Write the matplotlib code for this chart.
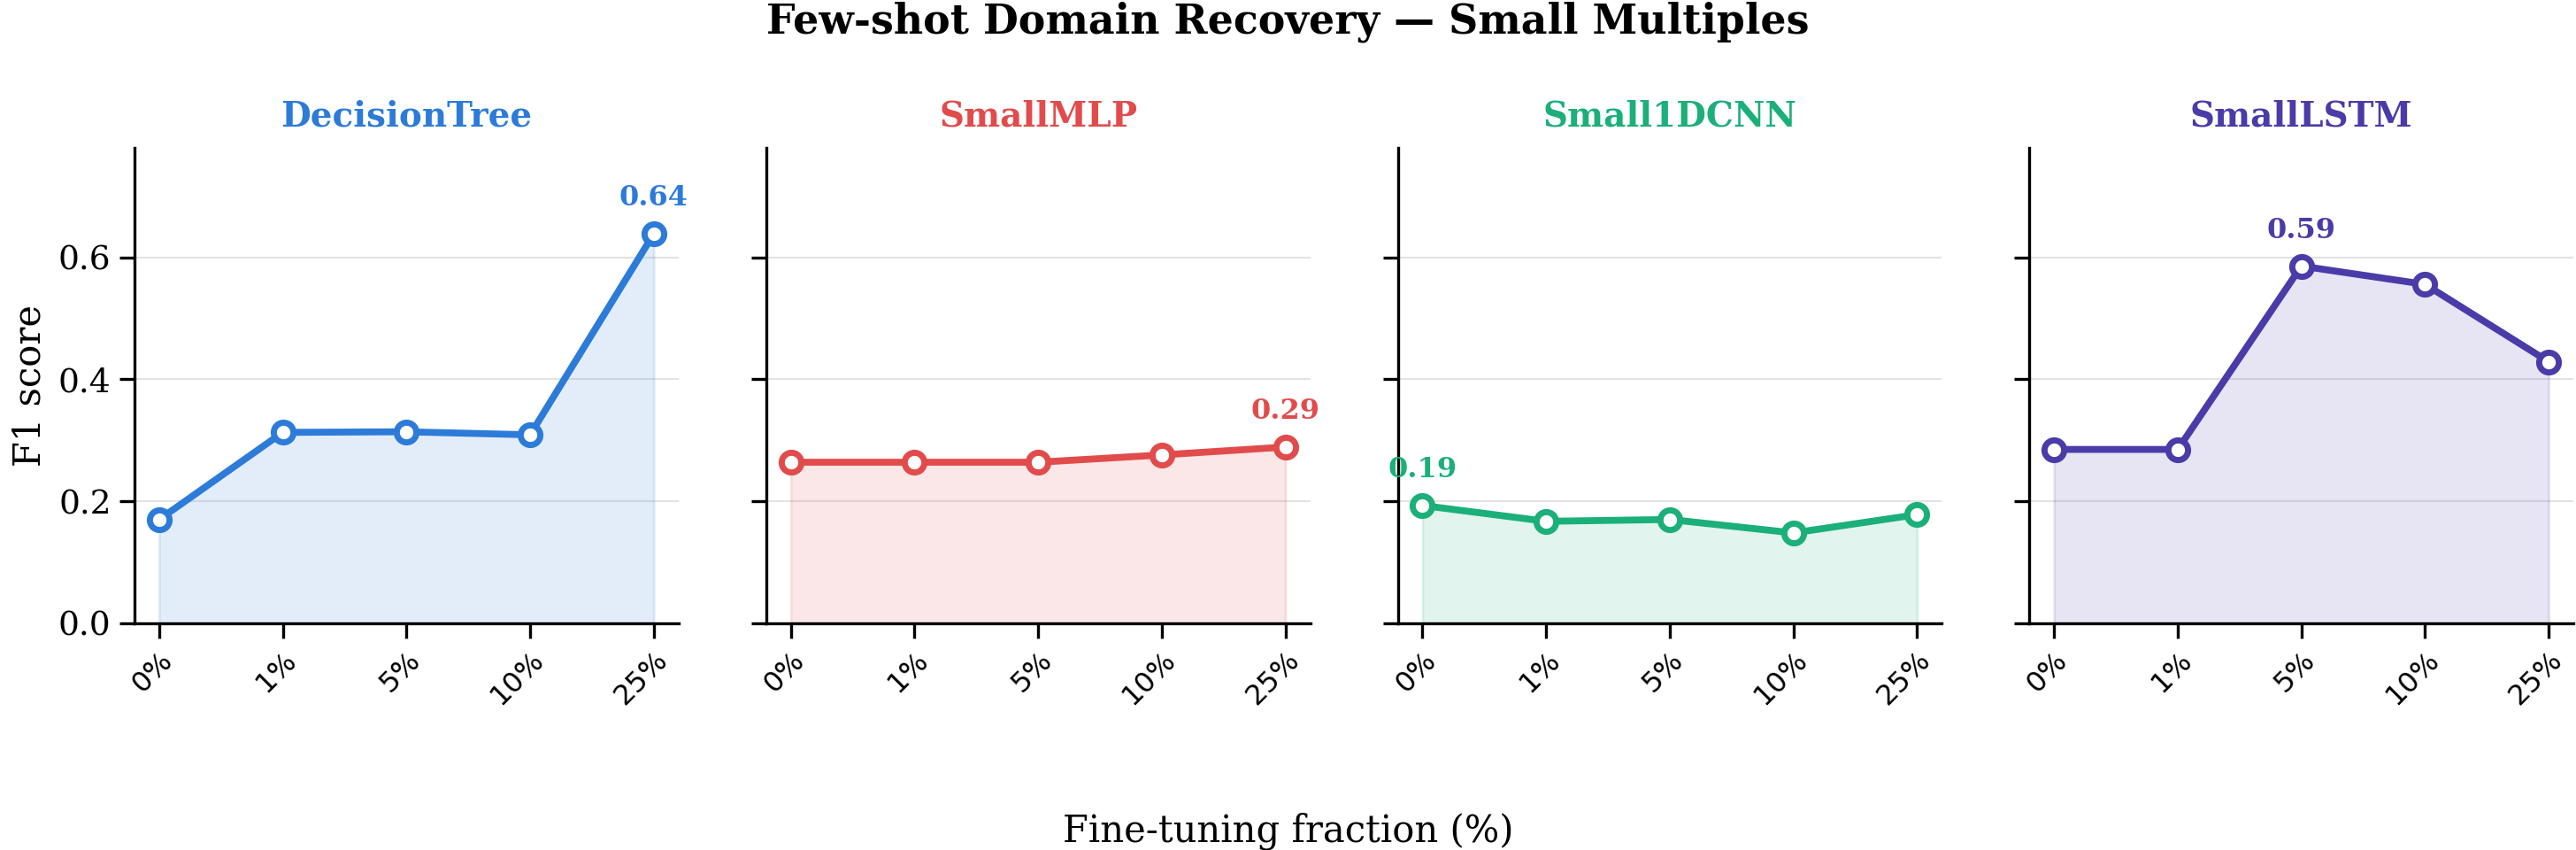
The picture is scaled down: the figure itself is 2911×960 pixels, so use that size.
import numpy as np
import matplotlib
matplotlib.use("Agg")
import matplotlib.pyplot as plt

# Datos
fractions = ["0%", "1%", "5%", "10%", "25%"]
models = ["DecisionTree", "SmallMLP", "Small1DCNN", "SmallLSTM"]
colors = ["#2C7BD9", "#E24B4B", "#1BAF7A", "#4A3BA8"]

decision_tree = [0.170, 0.313, 0.314, 0.309, 0.639]
small_mlp = [0.264, 0.264, 0.264, 0.276, 0.289]
small_1dcnn = [0.193, 0.167, 0.170, 0.148, 0.178]
small_lstm = [0.285, 0.285, 0.586, 0.556, 0.429]

scores = [decision_tree, small_mlp, small_1dcnn, small_lstm]

plt.rcParams['font.family'] = 'DejaVu Serif'

fig, axes = plt.subplots(1, 4, figsize=(14.555, 4.8), dpi=200, sharey=True)
fig.subplots_adjust(left=0.0522, right=0.999, bottom=0.267, top=0.826, wspace=0.161)

x = np.arange(len(fractions))
for ax, name, col, y in zip(axes, models, colors, scores):
    y = np.array(y)
    ax.fill_between(x, 0, y, color=col, alpha=0.13, zorder=1)
    ax.plot(x, y, color=col, lw=2.8, marker='o', ms=8, mfc='white',
            mec=col, mew=2.5, zorder=3)
    i = int(np.argmax(y))
    ax.annotate(f"{y[i]:.2f}", (x[i], y[i]), xytext=(0, 9),
                textcoords='offset points', ha='center', va='bottom',
                color=col, fontsize=11.5, fontweight='bold')
    ax.set_title(name, color=col, fontsize=14, fontweight='bold', pad=9)
    ax.set_xticks(x)
    ax.set_xticklabels(fractions, rotation=45, ha='right', rotation_mode='anchor',
                       fontsize=11.5, family='DejaVu Sans')
    ax.set_xlim(-0.2, 4.2)
    ax.set_ylim(0, 0.78)
    ax.set_yticks([0.0, 0.2, 0.4, 0.6])
    ax.tick_params(axis='y', labelsize=13.5, length=6, width=1.2)
    ax.tick_params(axis='x', length=6, width=1.2)
    ax.grid(axis='y', color='#dddddd', lw=0.8, alpha=0.8, zorder=0)
    ax.set_axisbelow(True)
    ax.spines['top'].set_visible(False)
    ax.spines['right'].set_visible(False)
    ax.spines['left'].set_linewidth(1.2)
    ax.spines['bottom'].set_linewidth(1.2)

axes[0].set_ylabel("F1 score", fontsize=15)
fig.suptitle("Few-shot Domain Recovery — Small Multiples", fontsize=16.5,
             fontweight='bold', y=0.998)
fig.supxlabel("Fine-tuning fraction (%)", fontsize=15, y=0.0)

fig.savefig("out.png", dpi=200)
